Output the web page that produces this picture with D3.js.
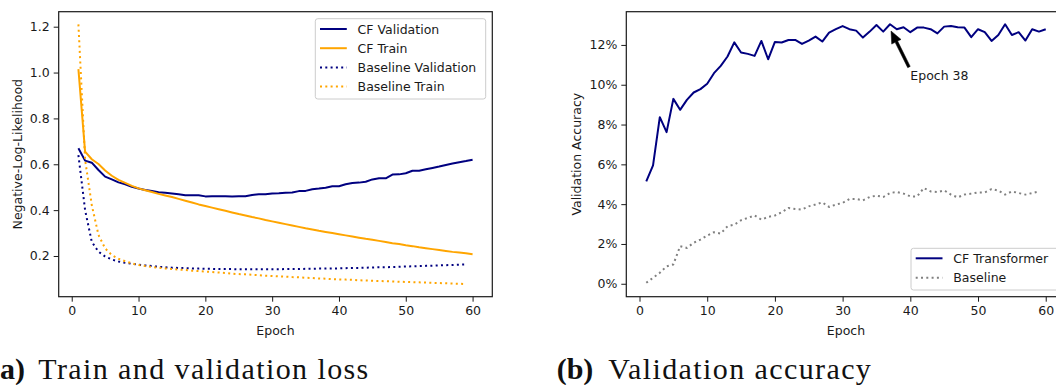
<!DOCTYPE html>
<html>
<head>
<meta charset="utf-8">
<script src="https://cdn.jsdelivr.net/npm/d3@7"></script>
<style>
  body { margin: 0; background: #fff; }
  svg { display: block; }
  .tick text { font-family: "DejaVu Sans", sans-serif; font-size: 12.5px; fill: #1a1a1a; }
  .lbl { font-family: "DejaVu Sans", sans-serif; font-size: 12.5px; fill: #1a1a1a; }
  .cap { font-family: "Liberation Serif", serif; font-size: 30px; fill: #111; }
  .cap-txt { letter-spacing: 1.4px; }
</style>
</head>
<body>
<svg id="chart" width="1056" height="385"></svg>
<script>
/******************* Data ***********************************/
var epochs = d3.range(1, 61);
var baseEpochs = d3.range(1, 60);

var cfValLoss = [
  0.670, 0.616, 0.607, 0.575, 0.546, 0.534, 0.521, 0.513, 0.502, 0.494,
  0.488, 0.483, 0.478, 0.476, 0.473, 0.469, 0.465, 0.465, 0.465, 0.460,
  0.461, 0.461, 0.461, 0.460, 0.461, 0.461, 0.466, 0.469, 0.469, 0.473,
  0.474, 0.476, 0.477, 0.483, 0.484, 0.491, 0.494, 0.498, 0.504, 0.504,
  0.513, 0.518, 0.520, 0.524, 0.534, 0.539, 0.539, 0.555, 0.556, 0.561,
  0.572, 0.572, 0.578, 0.584, 0.590, 0.597, 0.603, 0.609, 0.614, 0.620
];
var cfTrainLoss = [
  1.015, 0.655, 0.622, 0.601, 0.573, 0.550, 0.532, 0.519, 0.506, 0.495,
  0.487, 0.479, 0.471, 0.464, 0.457, 0.449, 0.441, 0.433, 0.425, 0.418,
  0.411, 0.404, 0.397, 0.390, 0.383, 0.377, 0.370, 0.364, 0.357, 0.351,
  0.345, 0.339, 0.333, 0.327, 0.321, 0.316, 0.310, 0.305, 0.300, 0.295,
  0.290, 0.285, 0.280, 0.275, 0.271, 0.266, 0.261, 0.256, 0.252, 0.247,
  0.243, 0.238, 0.234, 0.230, 0.226, 0.222, 0.218, 0.215, 0.212, 0.208
];
var baseValLoss = [
  0.640, 0.400, 0.262, 0.219, 0.198, 0.185, 0.176, 0.170, 0.166, 0.162,
  0.159, 0.156, 0.153, 0.151, 0.149, 0.148, 0.147, 0.146, 0.145, 0.144,
  0.144, 0.143, 0.143, 0.143, 0.142, 0.142, 0.142, 0.142, 0.142, 0.142,
  0.142, 0.143, 0.143, 0.143, 0.144, 0.144, 0.145, 0.145, 0.146, 0.146,
  0.147, 0.148, 0.148, 0.149, 0.150, 0.151, 0.151, 0.152, 0.153, 0.154,
  0.155, 0.156, 0.157, 0.158, 0.159, 0.160, 0.161, 0.162, 0.163
];
var baseTrainLoss = [
  1.210, 0.620, 0.422, 0.292, 0.233, 0.204, 0.188, 0.177, 0.168, 0.161,
  0.156, 0.152, 0.149, 0.146, 0.143, 0.141, 0.139, 0.136, 0.134, 0.132,
  0.130, 0.128, 0.126, 0.123, 0.121, 0.120, 0.118, 0.116, 0.114, 0.113,
  0.111, 0.110, 0.108, 0.107, 0.105, 0.104, 0.102, 0.101, 0.099, 0.098,
  0.097, 0.096, 0.094, 0.093, 0.092, 0.091, 0.090, 0.089, 0.088, 0.087,
  0.086, 0.085, 0.084, 0.083, 0.082, 0.081, 0.080, 0.079, 0.078
];

var cfValAcc = [
  5.15, 5.95, 8.37, 7.62, 9.29, 8.74, 9.24, 9.61, 9.78, 10.05,
  10.58, 10.95, 11.42, 12.13, 11.62, 11.55, 11.45, 12.20, 11.28, 12.15,
  12.12, 12.25, 12.25, 12.05, 12.22, 12.42, 12.17, 12.62, 12.79, 12.95,
  12.79, 12.72, 12.37, 12.67, 13.00, 12.67, 13.04, 12.79, 12.89, 12.64,
  12.87, 12.87, 12.79, 12.58, 12.92, 12.95, 12.89, 12.87, 12.39, 12.79,
  12.64, 12.20, 12.50, 13.04, 12.50, 12.64, 12.22, 12.79, 12.67, 12.79
];
var baseValAcc = [
  0.05, 0.30, 0.55, 0.88, 0.97, 1.89, 1.80, 2.06, 2.22, 2.42,
  2.59, 2.52, 2.89, 2.97, 3.19, 3.31, 3.43, 3.22, 3.36, 3.43,
  3.59, 3.81, 3.76, 3.73, 3.89, 3.98, 4.09, 3.86, 3.98, 4.06,
  4.26, 4.26, 4.19, 4.36, 4.43, 4.36, 4.56, 4.61, 4.53, 4.39,
  4.39, 4.81, 4.64, 4.61, 4.69, 4.48, 4.34, 4.48, 4.53, 4.59,
  4.59, 4.76, 4.68, 4.48, 4.64, 4.56, 4.48, 4.56, 4.64
];

var lossTicks = [0.2, 0.4, 0.6, 0.8, 1.0, 1.2];
var accTicks = [0, 2, 4, 6, 8, 10, 12];
var epochTicks = [0, 10, 20, 30, 40, 50, 60];

var lossLegend = ['CF Validation', 'CF Train', 'Baseline Validation', 'Baseline Train'];
var accLegend = ['CF Transformer', 'Baseline'];
var bestEpochLabel = 'Epoch 38';
var bestEpochTip = [37.15, 12.70];
var bestEpochText = [39.8, 10.89];

var NAVY = '#000080';
var ORANGE = '#ffa500';
var GREY = '#808080';
var DOTS = '2,3.3';

/******************* Drawing ********************************/
var svg = d3.select('#chart');

function drawPanel(id, left, right, yDomain, yTicks, yFormat, yLabel, yLabelX) {
  var top = 11.7, bottom = 296.7;
  var x = d3.scaleLinear().domain([-1.95, 62.95]).range([left, right]);
  var y = d3.scaleLinear().domain(yDomain).range([bottom, top]);

  svg.append('clipPath').attr('id', 'clip-' + id)
    .append('rect')
    .attr('x', left).attr('y', top)
    .attr('width', right - left).attr('height', bottom - top);

  var g = svg.append('g').attr('class', 'panel-' + id);
  var plot = g.append('g').attr('clip-path', 'url(#clip-' + id + ')');

  var xAxis = g.append('g')
    .attr('transform', 'translate(0,' + bottom + ')')
    .call(d3.axisBottom(x).tickValues(epochTicks).tickSize(5).tickPadding(4));
  var yAxis = g.append('g')
    .attr('transform', 'translate(' + left + ',0)')
    .call(d3.axisLeft(y).tickValues(yTicks).tickFormat(yFormat).tickSize(5).tickPadding(4));
  [xAxis, yAxis].forEach(function(a) {
    a.select('.domain').remove();
    a.selectAll('.tick line').attr('stroke', '#1a1a1a').attr('stroke-width', 1);
  });

  g.append('text').attr('class', 'lbl')
    .attr('x', (left + right) / 2)
    .attr('y', 335)
    .attr('text-anchor', 'middle')
    .text('Epoch');

  g.append('text').attr('class', 'lbl')
    .attr('transform', 'translate(' + yLabelX + ',' + ((top + bottom) / 2) + ') rotate(-90)')
    .attr('text-anchor', 'middle')
    .text(yLabel);

  var frame = g.append('rect')
    .attr('x', left).attr('y', top)
    .attr('width', right - left).attr('height', bottom - top)
    .attr('fill', 'none').attr('stroke', '#1a1a1a').attr('stroke-width', 1.2);

  return { x: x, y: y, plot: plot, g: g, frame: frame };
}

function addLine(p, xs, ys, color, dash) {
  var line = d3.line()
    .x(function(d, i) { return p.x(xs[i]); })
    .y(function(d) { return p.y(d); });
  p.plot.append('path')
    .datum(ys)
    .attr('d', line)
    .attr('fill', 'none')
    .attr('stroke', color)
    .attr('stroke-width', 2)
    .attr('stroke-linejoin', 'round')
    .attr('stroke-dasharray', dash || null);
}

function addLegend(p, box, items) {
  var lg = p.g.append('g');
  lg.append('rect')
    .attr('x', box.x).attr('y', box.y)
    .attr('width', box.w).attr('height', box.h)
    .attr('rx', 2.5)
    .attr('fill', '#fff').attr('fill-opacity', 0.85)
    .attr('stroke', '#cccccc').attr('stroke-width', 1);
  items.forEach(function(it, i) {
    var cy = box.y + box.first + i * box.step;
    lg.append('line')
      .attr('x1', box.x + 4.7).attr('x2', box.x + 31.5)
      .attr('y1', cy).attr('y2', cy)
      .attr('stroke', it.color).attr('stroke-width', 2)
      .attr('stroke-dasharray', it.dash || null);
    lg.append('text').attr('class', 'lbl')
      .attr('x', box.x + 42.3).attr('y', cy).attr('dy', '0.36em')
      .text(it.label);
  });
}

// (a) loss panel
var lossPanel = drawPanel('loss', 58.7, 492.3, [0.0225, 1.2654], lossTicks, d3.format('.1f'), 'Negative-Log-Likelihood', 21.5);
addLine(lossPanel, epochs, cfValLoss, NAVY);
addLine(lossPanel, epochs, cfTrainLoss, ORANGE);
addLine(lossPanel, baseEpochs, baseValLoss, NAVY, DOTS);
addLine(lossPanel, baseEpochs, baseTrainLoss, ORANGE, DOTS);
lossPanel.frame.raise();
addLegend(lossPanel, { x: 315.3, y: 18.7, w: 170.4, h: 80.3, first: 10.3, step: 19.2 }, [
  { label: lossLegend[0], color: NAVY },
  { label: lossLegend[1], color: ORANGE },
  { label: lossLegend[2], color: NAVY, dash: DOTS },
  { label: lossLegend[3], color: ORANGE, dash: DOTS }
]);

// (b) accuracy panel
var accPanel = drawPanel('acc', 626.3, 1065.7, [-0.65, 13.67], accTicks, function(d) { return d + '%'; }, 'Validation Accuracy', 581);
addLine(accPanel, epochs, cfValAcc, NAVY);
addLine(accPanel, baseEpochs, baseValAcc, GREY, DOTS);
accPanel.frame.raise();
addLegend(accPanel, { x: 911, y: 248.3, w: 150, h: 41.7, first: 10, step: 19.4 }, [
  { label: accLegend[0], color: NAVY },
  { label: accLegend[1], color: GREY, dash: DOTS }
]);

// annotation arrow
(function() {
  var tip = [accPanel.x(bestEpochTip[0]), accPanel.y(bestEpochTip[1])];
  var tail = [accPanel.x(bestEpochText[0]), accPanel.y(bestEpochText[1])];
  var dx = tip[0] - tail[0], dy = tip[1] - tail[1];
  var len = Math.sqrt(dx * dx + dy * dy);
  var ux = dx / len, uy = dy / len, nx = -uy, ny = ux;
  var headLen = 12, headW = 5.2, shaftW = 1.4;
  var bx = tip[0] - ux * headLen, by = tip[1] - uy * headLen;
  var pts = [
    [tail[0] + nx * shaftW, tail[1] + ny * shaftW],
    [bx + nx * shaftW, by + ny * shaftW],
    [bx + nx * headW, by + ny * headW],
    tip,
    [bx - nx * headW, by - ny * headW],
    [bx - nx * shaftW, by - ny * shaftW],
    [tail[0] - nx * shaftW, tail[1] - ny * shaftW]
  ];
  accPanel.g.append('polygon')
    .attr('points', pts.map(function(p) { return p.join(','); }).join(' '))
    .attr('fill', '#000').attr('stroke', '#000').attr('stroke-width', 0.5);
  accPanel.g.append('text').attr('class', 'lbl')
    .attr('x', accPanel.x(40.0)).attr('y', accPanel.y(10.24))
    .text(bestEpochLabel);
})();

// captions
svg.append('text').attr('class', 'cap')
  .attr('x', 25).attr('y', 379).attr('text-anchor', 'end')
  .attr('font-weight', 'bold').text('(a)');
svg.append('text').attr('class', 'cap cap-txt')
  .attr('x', 38.3).attr('y', 379).text('Train and validation loss');
svg.append('text').attr('class', 'cap')
  .attr('x', 556.7).attr('y', 379)
  .attr('font-weight', 'bold').text('(b)');
svg.append('text').attr('class', 'cap cap-txt')
  .attr('x', 608.3).attr('y', 379).text('Validation accuracy');
</script>
</body>
</html>
